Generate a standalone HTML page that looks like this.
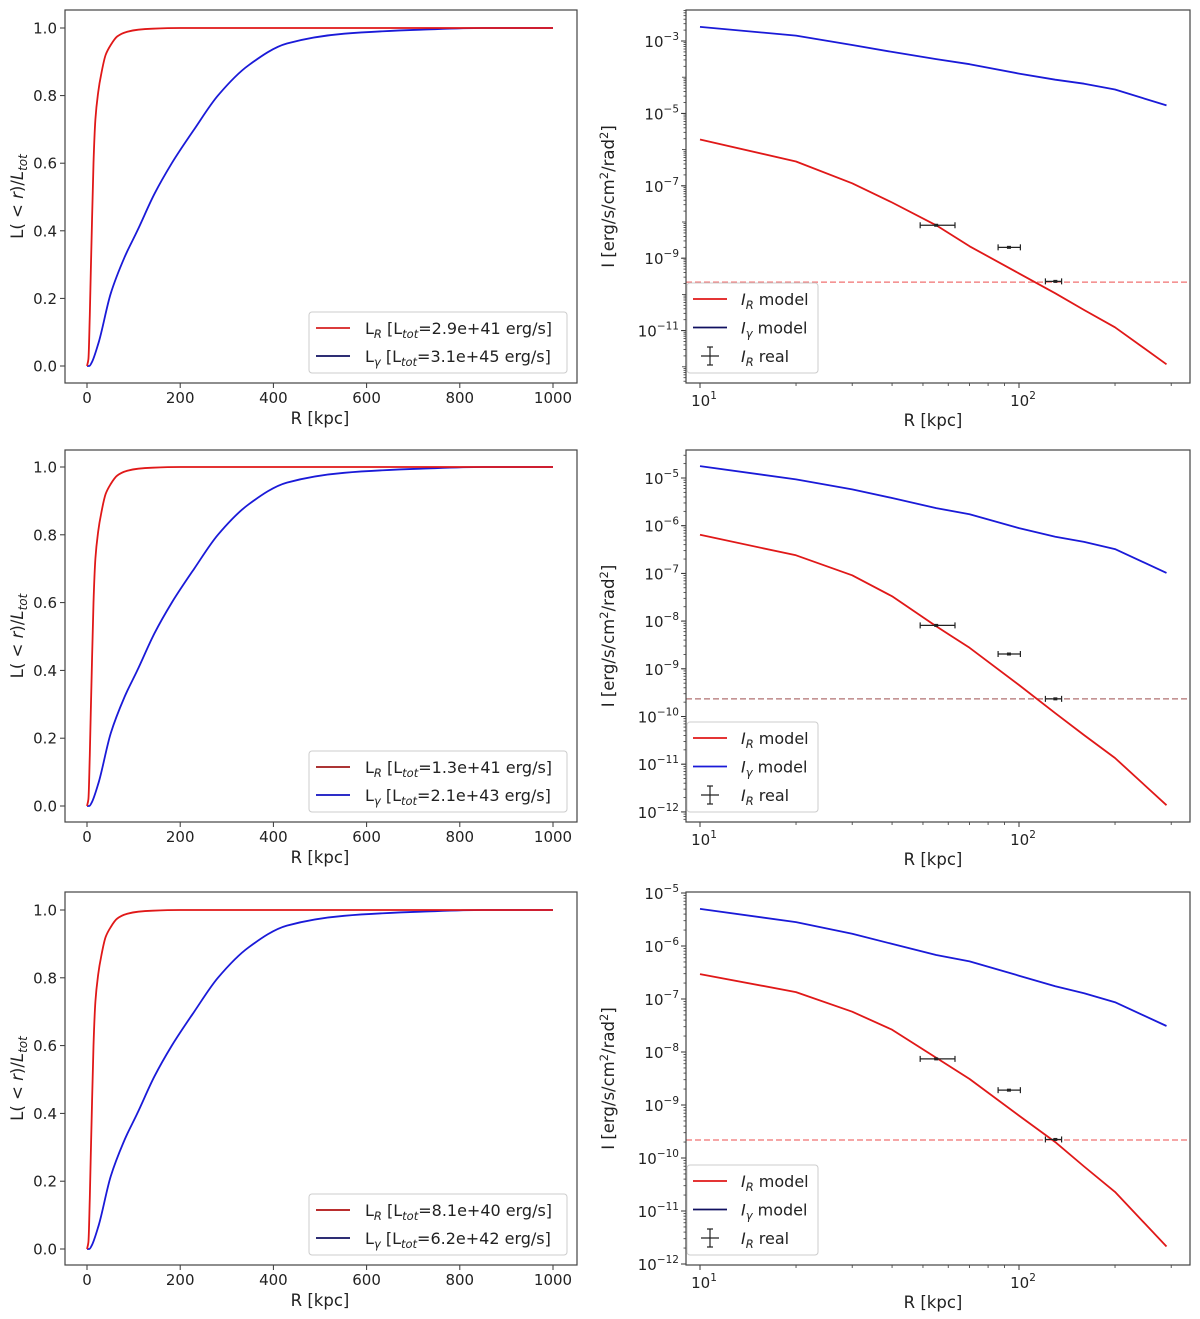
<!DOCTYPE html>
<html><head><meta charset="utf-8">
<style>
html,body{margin:0;padding:0;background:#fff;}
svg{display:block;font-family:"DejaVu Sans","Liberation Sans",sans-serif;}
</style></head>
<body>
<svg id="fig" width="1200" height="1319" viewBox="0 0 1200 1319"></svg>
<script>
// ---- data ----
const cumR = [0, 3, 6, 10, 14, 18, 24, 30, 40, 51, 65, 84, 110, 141, 200, 400, 1000];
const cumRedVals = [0, 0.02, 0.15, 0.39, 0.6, 0.73, 0.81, 0.86, 0.92, 0.95, 0.975, 0.988, 0.995, 0.998, 1.0, 1.0, 1.0];
const cumBlueR = [0, 5, 10, 25, 51, 80, 108, 145, 182, 230, 281, 347, 429, 552, 716, 850, 1000];
const cumBlueVals = [0, 0.0, 0.01, 0.07, 0.215, 0.32, 0.40, 0.51, 0.60, 0.70, 0.80, 0.89, 0.954, 0.983, 0.995, 1.0, 1.0];
const legendLR = ["2.9e+41", "1.3e+41", "8.1e+40"];
const legendLG = ["3.1e+45", "2.1e+43", "6.2e+42"];
const leftYTicks = [0.0, 0.2, 0.4, 0.6, 0.8, 1.0];
const leftXTicks = [0, 200, 400, 600, 800, 1000];

const modelR = [10, 20, 30, 40, 55, 70, 100, 130, 160, 200, 290];
const redLog1 = [-5.72, -6.33, -6.93, -7.46, -8.09, -8.67, -9.42, -9.97, -10.43, -10.91, -11.93];
const blueLog1 = [-2.61, -2.85, -3.11, -3.30, -3.50, -3.64, -3.90, -4.07, -4.18, -4.34, -4.78];
const redLog2 = [-6.19, -6.62, -7.04, -7.48, -8.11, -8.56, -9.34, -9.93, -10.39, -10.87, -11.86];
const blueLog2 = [-4.75, -5.03, -5.24, -5.42, -5.63, -5.76, -6.05, -6.23, -6.34, -6.49, -6.99];
const redLog3 = [-6.53, -6.87, -7.24, -7.58, -8.11, -8.51, -9.20, -9.70, -10.16, -10.64, -11.67];
const blueLog3 = [-5.30, -5.55, -5.77, -5.96, -6.17, -6.29, -6.56, -6.76, -6.89, -7.06, -7.51];
const realR = [55, 93, 130];
const realRlo = [49, 86, 121];
const realRhi = [63, 101, 136];
const realLog1 = [-8.09, -8.70, -9.64];
const realLog2 = [-8.09, -8.69, -9.63];
const realLog3 = [-8.13, -8.72, -9.65];
const thresholdLog = [-9.66, -9.63, -9.66];
const rightYTicks1 = [-3, -5, -7, -9, -11];
const rightYTicks2 = [-5, -6, -7, -8, -9, -10, -11, -12];
const rightYTicks3 = [-5, -6, -7, -8, -9, -10, -11, -12];
const rightXTicks = [1, 2];

const NS = "http://www.w3.org/2000/svg";
const fig = document.getElementById('fig');
function mk(tag, attrs, parent, text) {
  const e = document.createElementNS(NS, tag);
  for (const k in attrs) e.setAttribute(k, attrs[k]);
  if (text !== undefined) e.textContent = text;
  (parent || fig).appendChild(e);
  return e;
}
const minusChar = "\u2212";

const rows = [
  {top: 10, bot: 383, ly1: 28, ly0: 366},
  {top: 450, bot: 822, ly1: 467, ly0: 806},
  {top: 892, bot: 1265, ly1: 910, ly0: 1249}
];
const rightY = [
  {dec: -3, px: 41, per: 36.2},
  {dec: -5, px: 478, per: 47.7},
  {dec: -5, px: 893, per: 53.0}
];
const redLogs = [redLog1, redLog2, redLog3];
const blueLogs = [blueLog1, blueLog2, blueLog3];
const realLogs = [realLog1, realLog2, realLog3];
const rTicks = [rightYTicks1, rightYTicks2, rightYTicks3];
const lgColorsR = ["#d62020", "#a01818", "#b01010"];
const lgColorsG = ["#101060", "#1010c0", "#101060"];

function linePath(xs, ys, fx, fy) {
  let s = "";
  for (let i = 0; i < xs.length; i++) s += (i ? "L" : "M") + fx(xs[i]).toFixed(1) + "," + fy(ys[i]).toFixed(1);
  return s;
}
function pathFrom(xs, ys, fx, fy) {
  const P = xs.map((x, i) => [fx(x), fy(ys[i])]);
  const n = P.length;
  const d = [], m = [];
  for (let i = 0; i < n - 1; i++) d.push((P[i + 1][1] - P[i][1]) / (P[i + 1][0] - P[i][0]));
  m[0] = d[0]; m[n - 1] = d[n - 2];
  for (let i = 1; i < n - 1; i++) {
    if (d[i - 1] * d[i] <= 0) m[i] = 0;
    else {
      const h0 = P[i][0] - P[i - 1][0], h1 = P[i + 1][0] - P[i][0];
      m[i] = 3 * (h0 + h1) / ((2 * h1 + h0) / d[i - 1] + (h1 + 2 * h0) / d[i]);
    }
  }
  let s = "M" + P[0][0].toFixed(1) + "," + P[0][1].toFixed(1);
  for (let i = 0; i < n - 1; i++) {
    const h = (P[i + 1][0] - P[i][0]) / 3;
    s += "C" + (P[i][0] + h).toFixed(1) + "," + (P[i][1] + m[i] * h).toFixed(1) + " " +
      (P[i + 1][0] - h).toFixed(1) + "," + (P[i + 1][1] - m[i + 1] * h).toFixed(1) + " " +
      P[i + 1][0].toFixed(1) + "," + P[i + 1][1].toFixed(1);
  }
  return s;
}

rows.forEach((row, ri) => {
  const gL = mk('g', {}, fig);
  
  
  const L0 = 65, L1 = 577;
  const xL = v => 87 + (553 - 87) * v / 1000;
  const yL = v => row.ly0 + (row.ly1 - row.ly0) * v;
  leftXTicks.forEach(t => {
    mk('line', {x1: xL(t), x2: xL(t), y1: row.bot, y2: row.bot + 5, stroke: '#333', 'stroke-width': 1}, gL);
    const tx = mk('text', {x: xL(t), y: row.bot + 20, 'font-size': 15, 'text-anchor': 'middle', fill: '#222'}, gL, String(t));
    
    
  });
  leftYTicks.forEach(t => {
    mk('line', {x1: L0 - 5, x2: L0, y1: yL(t), y2: yL(t), stroke: '#333', 'stroke-width': 1}, gL);
    const tx = mk('text', {x: L0 - 8, y: yL(t) + 5.5, 'font-size': 15, 'text-anchor': 'end', fill: '#222'}, gL, t.toFixed(1));
    
    
  });
  const pb = mk('path', {d: pathFrom(cumBlueR, cumBlueVals, xL, yL), fill: 'none', stroke: '#1a1ad8', 'stroke-width': 1.8}, gL);
  
  
  const pr = mk('path', {d: pathFrom(cumR, cumRedVals, xL, yL), fill: 'none', stroke: '#e01818', 'stroke-width': 1.8}, gL);
  
  
  mk('rect', {x: L0, y: row.top, width: L1 - L0, height: row.bot - row.top, fill: 'none', stroke: '#444', 'stroke-width': 1.2}, gL);
  const xt = mk('text', {x: 320, y: row.bot + 41, 'font-size': 16.5, 'text-anchor': 'middle', fill: '#222'}, gL, 'R [kpc]');
  
  
  const ytc = (row.top + row.bot) / 2;
  const yt = mk('text', {x: 0, y: 0, 'font-size': 16.5, 'text-anchor': 'middle', fill: '#222', transform: `translate(23,${ytc}) rotate(-90)`}, gL);
  
  
  mk('tspan', {}, yt, 'L(');
  mk('tspan', {'font-style': 'italic'}, yt, ' < r');
  mk('tspan', {}, yt, ')/');
  mk('tspan', {'font-style': 'italic'}, yt, 'L');
  mk('tspan', {'font-style': 'italic', 'font-size': 12, dy: 4}, yt, 'tot');
  const lg = mk('g', {}, gL);
  
  
  const lgTop = row.bot - 71;
  mk('rect', {x: 309, y: lgTop, width: 258, height: 61, rx: 3, fill: '#fff', stroke: '#ccc', 'stroke-width': 1}, lg);
  [[legendLR[ri], lgColorsR[ri], 'R'], [legendLG[ri], lgColorsG[ri], 'γ']].forEach((e, k) => {
    const yy = lgTop + 16 + k * 28;
    mk('line', {x1: 316, x2: 350, y1: yy, y2: yy, stroke: e[1], 'stroke-width': 1.8}, lg);
    const t = mk('text', {x: 365, y: yy + 6, 'font-size': 16, fill: '#222'}, lg);
    
    
    mk('tspan', {}, t, 'L');
    mk('tspan', {'font-style': 'italic', 'font-size': 11.5, dy: 4}, t, e[2]);
    mk('tspan', {dy: -4}, t, ' [L');
    mk('tspan', {'font-style': 'italic', 'font-size': 11.5, dy: 4}, t, 'tot');
    mk('tspan', {dy: -4}, t, '=' + e[0] + ' erg/s]');
  });

  const gR = mk('g', {}, fig);
  
  
  const R0 = 686, R1 = 1190;
  const xR = r => 700 + 319 * (Math.log10(r) - 1);
  const ry = rightY[ri];
  const yR = lg10 => ry.px - (lg10 - ry.dec) * ry.per;
  rightXTicks.forEach(p => {
    const px = xR(Math.pow(10, p));
    mk('line', {x1: px, x2: px, y1: row.bot, y2: row.bot + 5, stroke: '#333'}, gR);
    const t = mk('text', {x: px + 4, y: row.bot + 23, 'font-size': 15, 'text-anchor': 'middle', fill: '#222'}, gR);
    
    
    mk('tspan', {}, t, '10');
    mk('tspan', {'font-size': 10.5, dy: -7}, t, String(p));
  });
  [9, 20, 30, 40, 50, 60, 70, 80, 90, 200, 300].forEach(m => {
    const px = xR(m);
    if (px < R0) return;
    mk('line', {x1: px, x2: px, y1: row.bot, y2: row.bot + 3, stroke: '#333', 'stroke-width': 0.8}, gR);
  });
  const yMin = ry.dec - (row.bot - ry.px) / ry.per, yMax = ry.dec + (ry.px - row.top) / ry.per;
  for (let d = Math.floor(yMin); d <= Math.ceil(yMax); d++) {
    for (let m = 1; m <= 9; m++) {
      const v = d + Math.log10(m);
      if (v < yMin || v > yMax) continue;
      const py = yR(v);
      mk('line', {x1: R0 - (m === 1 ? 4 : 2.5), x2: R0, y1: py, y2: py, stroke: '#333', 'stroke-width': 0.8}, gR);
    }
  }
  rTicks[ri].forEach(p => {
    const py = yR(p);
    mk('line', {x1: R0 - 5, x2: R0, y1: py, y2: py, stroke: '#333'}, gR);
    const t = mk('text', {x: R0 - 7, y: py + 6, 'font-size': 15, 'text-anchor': 'end', fill: '#222'}, gR);
    
    
    mk('tspan', {}, t, '10');
    mk('tspan', {'font-size': 10.5, dy: -7}, t, minusChar + String(-p));
  });
  const th = mk('line', {x1: R0, x2: R1, y1: yR(thresholdLog[ri]), y2: yR(thresholdLog[ri]), stroke: ri === 1 ? '#b07070' : '#f07070', 'stroke-width': 1.2, 'stroke-dasharray': '6,3'}, gR);
  
  
  const bl = mk('path', {d: linePath(modelR, blueLogs[ri], xR, yR), fill: 'none', stroke: '#1a1ad8', 'stroke-width': 1.8, 'stroke-linejoin': 'round'}, gR);
  
  
  const rl = mk('path', {d: linePath(modelR, redLogs[ri], xR, yR), fill: 'none', stroke: '#e01818', 'stroke-width': 1.8, 'stroke-linejoin': 'round'}, gR);
  
  
  realR.forEach((r, k) => {
    const py = yR(realLogs[ri][k]);
    const a = xR(realRlo[k]), b = xR(realRhi[k]);
    const eg = mk('g', {stroke: '#222', 'stroke-width': 1.2}, gR);
    
    
    mk('line', {x1: a, x2: b, y1: py, y2: py}, eg);
    mk('line', {x1: a, x2: a, y1: py - 3, y2: py + 3}, eg);
    mk('line', {x1: b, x2: b, y1: py - 3, y2: py + 3}, eg);
    mk('rect', {x: xR(r) - 2, y: py - 1.5, width: 4, height: 3, fill: '#222', stroke: 'none'}, eg);
  });
  mk('rect', {x: R0, y: row.top, width: R1 - R0, height: row.bot - row.top, fill: 'none', stroke: '#444', 'stroke-width': 1.2}, gR);
  const xt2 = mk('text', {x: 933, y: row.bot + 43, 'font-size': 16.5, 'text-anchor': 'middle', fill: '#222'}, gR, 'R [kpc]');
  
  
  const yt2 = mk('text', {x: 0, y: 0, 'font-size': 16.5, 'text-anchor': 'middle', fill: '#222', transform: `translate(614,${ytc}) rotate(-90)`}, gR);
  
  
  mk('tspan', {}, yt2, 'I [erg/s/cm');
  mk('tspan', {'font-size': 11.5, dy: -6}, yt2, '2');
  mk('tspan', {dy: 6}, yt2, '/rad');
  mk('tspan', {'font-size': 11.5, dy: -6}, yt2, '2');
  mk('tspan', {dy: 6}, yt2, ']');
  const lg2 = mk('g', {}, gR);
  
  
  const lt = row.bot - 100;
  mk('rect', {x: 687, y: lt, width: 131, height: 90, rx: 3, fill: '#fff', stroke: '#ccc', 'stroke-width': 1}, lg2);
  const ents = [['R', 'model', '#e01818'], ['γ', 'model', '#1a1ad8'], ['R', 'real', null]];
  ents.forEach((e, k) => {
    const yy = lt + 16 + k * 28.5;
    if (e[2]) mk('line', {x1: 693, x2: 727, y1: yy, y2: yy, stroke: k === 1 && ri !== 1 ? '#101060' : e[2], 'stroke-width': 1.8}, lg2);
    else {
      mk('line', {x1: 701, x2: 719, y1: yy, y2: yy, stroke: '#222', 'stroke-width': 1.2}, lg2);
      mk('line', {x1: 710, x2: 710, y1: yy - 9, y2: yy + 9, stroke: '#222', 'stroke-width': 1.2}, lg2);
      mk('line', {x1: 707, x2: 713, y1: yy - 9, y2: yy - 9, stroke: '#222', 'stroke-width': 1.2}, lg2);
      mk('line', {x1: 707, x2: 713, y1: yy + 9, y2: yy + 9, stroke: '#222', 'stroke-width': 1.2}, lg2);
    }
    const t = mk('text', {x: 741, y: yy + 6, 'font-size': 16, fill: '#222'}, lg2);
    
    
    mk('tspan', {'font-style': 'italic'}, t, 'I');
    mk('tspan', {'font-style': 'italic', 'font-size': 11.5, dy: 4}, t, e[0]);
    mk('tspan', {dy: -4}, t, ' ' + e[1]);
  });
});
</script>
</body></html>
